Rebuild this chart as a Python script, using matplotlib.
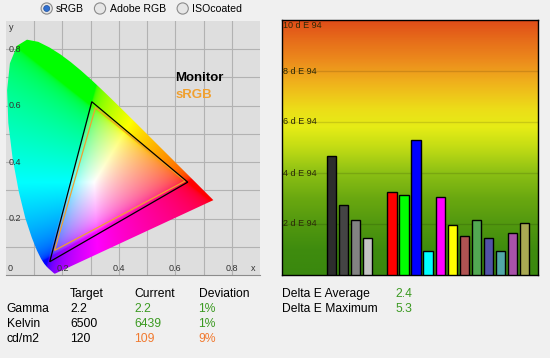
import numpy as np
import matplotlib
matplotlib.use('Agg')
import matplotlib.pyplot as plt
from matplotlib.colors import LinearSegmentedColormap
from matplotlib.patches import Polygon, Circle

plt.rcParams['font.family'] = ['Liberation Sans', 'DejaVu Sans']

# CIE 1931 spectral locus (380-700nm, 5nm steps)
locus_x = [0.1741, 0.1740, 0.1738, 0.1736, 0.1733, 0.1730, 0.1726, 0.1721, 0.1714, 0.1703,
           0.1689, 0.1669, 0.1644, 0.1611, 0.1566, 0.1510, 0.1440, 0.1355, 0.1241, 0.1096,
           0.0913, 0.0687, 0.0454, 0.0235, 0.0082, 0.0039, 0.0139, 0.0389, 0.0743, 0.1142,
           0.1547, 0.1929, 0.2296, 0.2658, 0.3016, 0.3373, 0.3731, 0.4087, 0.4441, 0.4788,
           0.5125, 0.5448, 0.5752, 0.6029, 0.6270, 0.6482, 0.6658, 0.6801, 0.6915, 0.7006,
           0.7079, 0.7140, 0.7190, 0.7230, 0.7260, 0.7283, 0.7300, 0.7311, 0.7320, 0.7327,
           0.7334, 0.7340, 0.7344, 0.7346, 0.7347]
locus_y = [0.0050, 0.0050, 0.0049, 0.0049, 0.0048, 0.0048, 0.0048, 0.0048, 0.0051, 0.0058,
           0.0069, 0.0086, 0.0109, 0.0138, 0.0177, 0.0227, 0.0297, 0.0399, 0.0578, 0.0868,
           0.1327, 0.2007, 0.2950, 0.4127, 0.5384, 0.6548, 0.7502, 0.8120, 0.8338, 0.8262,
           0.8059, 0.7816, 0.7543, 0.7243, 0.6923, 0.6589, 0.6245, 0.5896, 0.5547, 0.5202,
           0.4866, 0.4544, 0.4242, 0.3965, 0.3725, 0.3514, 0.3340, 0.3197, 0.3083, 0.2993,
           0.2920, 0.2859, 0.2809, 0.2770, 0.2740, 0.2717, 0.2700, 0.2689, 0.2680, 0.2673,
           0.2666, 0.2660, 0.2656, 0.2654, 0.2653]

# gamut triangles (R, G, B)
monitor_x = [0.644, 0.304, 0.155]
monitor_y = [0.329, 0.614, 0.047]
srgb_x = [0.635, 0.317, 0.172]
srgb_y = [0.333, 0.593, 0.087]

# delta E bars
bar_values = [4.65, 2.73, 2.14, 1.44, 3.24, 3.12, 5.3, 0.93, 3.05, 1.95,
              1.52, 2.14, 1.44, 0.93, 1.63, 2.03]
bar_colors = ['#2d2d2d', '#444444', '#828282', '#c4c4c4', '#ff0000', '#00ff00', '#0000ff',
              '#00ffff', '#ff00ff', '#ffff00', '#b05252', '#52a852', '#5252a8', '#52a8a8',
              '#a852a8', '#a8a852']
de_ticks = [2, 4, 6, 8, 10]

# table
header = ['Target', 'Current', 'Deviation']
row_labels = ['Gamma', 'Kelvin', 'cd/m2']
target = ['2.2', '6500', '120']
current = ['2.2', '6439', '109']
deviation = ['1%', '1%', '9%']
row_ok = [True, True, False]
summary_labels = ['Delta E Average', 'Delta E Maximum']
summary_values = ['2.4', '5.3']
profiles = ['sRGB', 'Adobe RGB', 'ISOcoated']

GREEN = '#3c9a22'
ORANGE = '#f07a30'

W, H = 550, 358
fig = plt.figure(figsize=(W / 100, H / 100), dpi=100, facecolor='#f0f0f0')


def px_axes(x0, y0, w, h):
    return fig.add_axes([x0 / W, 1 - (y0 + h) / H, w / W, h / H])


# ---- CIE diagram ----
ax1 = px_axes(6, 20, 254, 256)
ax1.set_facecolor('#dedede')
ax1.set_xlim(0, 0.9)
ax1.set_ylim(0, 0.9)
ax1.set_xticks(np.arange(0.1, 0.85, 0.1))
ax1.set_yticks(np.arange(0.1, 0.85, 0.1))
ax1.grid(True, color='#b2b2b2', lw=0.8)
ax1.tick_params(length=0, labelbottom=False, labelleft=False)
for s in ['top', 'left', 'right']:
    ax1.spines[s].set_visible(False)
ax1.spines['bottom'].set_color('#8c8c8c')
ax1.set_axisbelow(True)

n = 500
g = np.linspace(0, 0.9, n)
gx, gy = np.meshgrid(g, g)
gy_s = np.maximum(gy, 1e-3)
X = gx / gy_s
Y = np.ones_like(gx)
Z = (1 - gx - gy) / gy_s
M = np.array([[3.2406, -1.5372, -0.4986],
              [-0.9689, 1.8758, 0.0415],
              [0.0557, -0.2040, 1.0570]])
rgb = np.einsum('ij,jkl->kli', M, np.array([X, Y, Z]))
rgb = np.clip(rgb, 0, None)
rgb = rgb / np.maximum(rgb.max(axis=2, keepdims=True), 1e-9)
rgb = np.where(rgb <= 0.0031308, 12.92 * rgb, 1.055 * rgb ** (1 / 2.4) - 0.055)
rgb = np.clip(rgb, 0, 1) ** 0.75
im = ax1.imshow(rgb, extent=(0, 0.9, 0, 0.9), origin='lower', zorder=2, interpolation='bilinear')
poly = Polygon(np.column_stack([locus_x, locus_y]), closed=True, transform=ax1.transData)
im.set_clip_path(poly)

ax1.add_patch(Polygon(np.column_stack([srgb_x, srgb_y]), closed=True, fill=False,
                      ec='#f0a030', lw=0.9, zorder=3))
ax1.add_patch(Polygon(np.column_stack([monitor_x, monitor_y]), closed=True, fill=False,
                      ec='black', lw=0.9, zorder=4))

tick_col = '#333333'
for v in [0.2, 0.4, 0.6, 0.8]:
    ax1.text(0.008, v, f'{v:.1f}', fontsize=6.5, color=tick_col, va='center', ha='left', zorder=5)
    ax1.text(v, 0.022, f'{v:.1f}', fontsize=6.5, color=tick_col, va='center', ha='center', zorder=5)
ax1.text(0.016, 0.022, '0', fontsize=6.5, color=tick_col, va='center', ha='center', zorder=5)
ax1.text(0.876, 0.022, 'x', fontsize=6.5, color=tick_col, va='center', ha='center', zorder=5)
ax1.text(0.01, 0.876, 'y', fontsize=6.5, color=tick_col, va='center', ha='left', zorder=5)
ax1.text(0.600, 0.697, 'Monitor', fontsize=9.5, fontweight='bold', color='black', va='center', zorder=5)
ax1.text(0.600, 0.637, 'sRGB', fontsize=9.5, fontweight='bold', color='#f0a030', va='center', zorder=5)

# ---- delta E bars ----
ax2 = px_axes(282, 20, 256, 255)
pos = np.r_[0:4, 5:17]
ax2.set_xlim(-4.14, 17.14)
ax2.set_ylim(0, 10)
grad = LinearSegmentedColormap.from_list('de', [
    (0.0, '#3a880e'), (0.1, '#3f8c0e'), (0.2, '#52980f'), (0.3, '#6aa810'),
    (0.4, '#8cc014'), (0.5, '#c2dc14'), (0.58, '#e6ec16'), (0.65, '#ecde18'),
    (0.75, '#f0b41c'), (0.85, '#ec881c'), (0.93, '#e66a1a'), (1.0, '#e04c18')])
ax2.imshow(np.linspace(0, 1, 256).reshape(-1, 1), cmap=grad, aspect='auto', origin='lower',
           extent=(-4.14, 17.14, 0, 10), zorder=0)
for v in de_ticks[:-1]:
    ax2.axhline(v, color='black', alpha=0.13, lw=1, zorder=1)
ax2.bar(pos, bar_values, width=0.76, color=bar_colors, edgecolor='black', lw=1, zorder=3)
for v in de_ticks:
    ax2.text(-4.05, v - (0.2 if v == 10 else 0), f'{v} d E 94', fontsize=6.5,
             color='#2c2a08', va='center', ha='left', zorder=2)
ax2.set_xticks([])
ax2.set_yticks([])
for s in ax2.spines.values():
    s.set_color('black')
    s.set_linewidth(1)

# ---- overlay: radio buttons and tables ----
ax0 = fig.add_axes([0, 0, 1, 1], zorder=-1)
ax0.set_xlim(0, W)
ax0.set_ylim(H, 0)
ax0.axis('off')

radio_x = [46.7, 100, 182.7]
for i, (cx, name) in enumerate(zip(radio_x, profiles)):
    ax0.add_patch(Circle((cx, 8.5), 5.6, fc='#e6e6e6', ec='#8a8a8a', lw=0.8))
    if i == 0:
        ax0.add_patch(Circle((cx, 8.5), 3.0, fc='#2f6fcf', ec='#1d4f9f', lw=0.5))
    ax0.text(cx + 9.5, 8.8, name, fontsize=7.6, va='center', ha='left', color='black')

fs = 8.7
col_x = [70, 134.5, 198.5]
for x, h in zip(col_x, header):
    ax0.text(x, 294, h, fontsize=fs, va='center', color='black')
for i, lab in enumerate(row_labels):
    y = 309 + 15 * i
    c = GREEN if row_ok[i] else ORANGE
    ax0.text(6.5, y, lab, fontsize=fs, va='center', color='black')
    ax0.text(col_x[0], y, target[i], fontsize=fs, va='center', color='black')
    ax0.text(col_x[1], y, current[i], fontsize=fs, va='center', color=c)
    ax0.text(col_x[2], y, deviation[i], fontsize=fs, va='center', color=c)

for i, (lab, val) in enumerate(zip(summary_labels, summary_values)):
    y = 294 + 14.5 * i
    ax0.text(282, y, lab, fontsize=fs, va='center', color='black')
    ax0.text(395, y, val, fontsize=fs, va='center', color=GREEN)

fig.savefig('out.png', dpi=100, facecolor=fig.get_facecolor())
